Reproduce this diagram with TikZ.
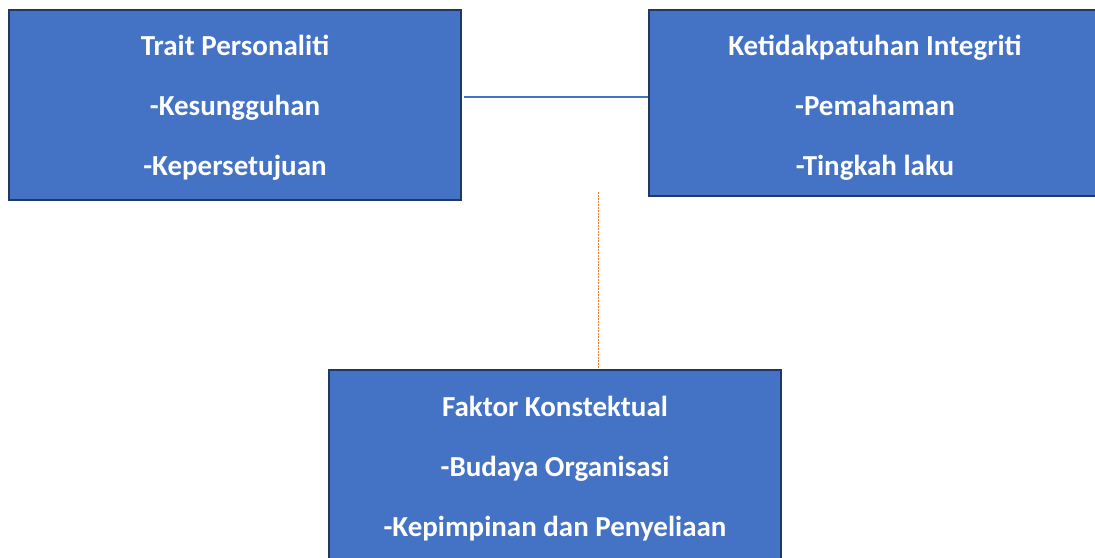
\documentclass[tikz,border=0pt]{standalone}
\usepackage{fontspec}
\setmainfont{Carlito}
\definecolor{boxfill}{HTML}{4472C4}
\definecolor{boxedge}{HTML}{1F3864}
\definecolor{linkorange}{HTML}{ED7D31}
\begin{document}
\begin{tikzpicture}[x=1pt,y=-1pt,
  factor/.style={draw=boxedge, line width=2.2pt, fill=boxfill,
    minimum width=452pt, inner sep=0pt},
  factortext/.style={text=white, inner sep=0pt, align=center,
    font=\fontsize{29}{35}\selectfont\bfseries},
  bluelink/.style={draw=boxfill, line width=1.3pt},
  orangelink/.style={draw=linkorange, line width=0.9pt, dash pattern=on 1.5pt off 1.5pt}]
\useasboundingbox (0,0) rectangle (1095,557);
\clip (0,0) rectangle (1095,557);
\node[factor, minimum height=190pt] (tp) at (235,105) {};
\node[factortext] (tpt) at ([yshift=-3pt]tp.center)
  {Trait Personaliti\\[25pt]-Kesungguhan\\[25pt]-Kepersetujuan};
\node[factor, minimum height=186pt] (ki) at (875,103) {};
\node[factortext] (kit) at ([yshift=-5pt]ki.center)
  {Ketidakpatuhan Integriti\\[25pt]-Pemahaman\\[25pt]-Tingkah laku};
\node[factor, minimum height=194pt] (fk) at (555,467) {};
\node[factortext] (fkt) at ([yshift=-2pt]fk.center)
  {Faktor Konstektual\\[25pt]-Budaya Organisasi\\[25pt]-Kepimpinan dan Penyeliaan};
\draw[bluelink] ([yshift=8pt,xshift=2pt]tp.east) -- ([yshift=8pt]tp.east -| ki.west);
\coordinate (dtop) at (598.5,192);
\draw[orangelink] (dtop) -- (dtop |- fk.north);
\end{tikzpicture}
\end{document}
